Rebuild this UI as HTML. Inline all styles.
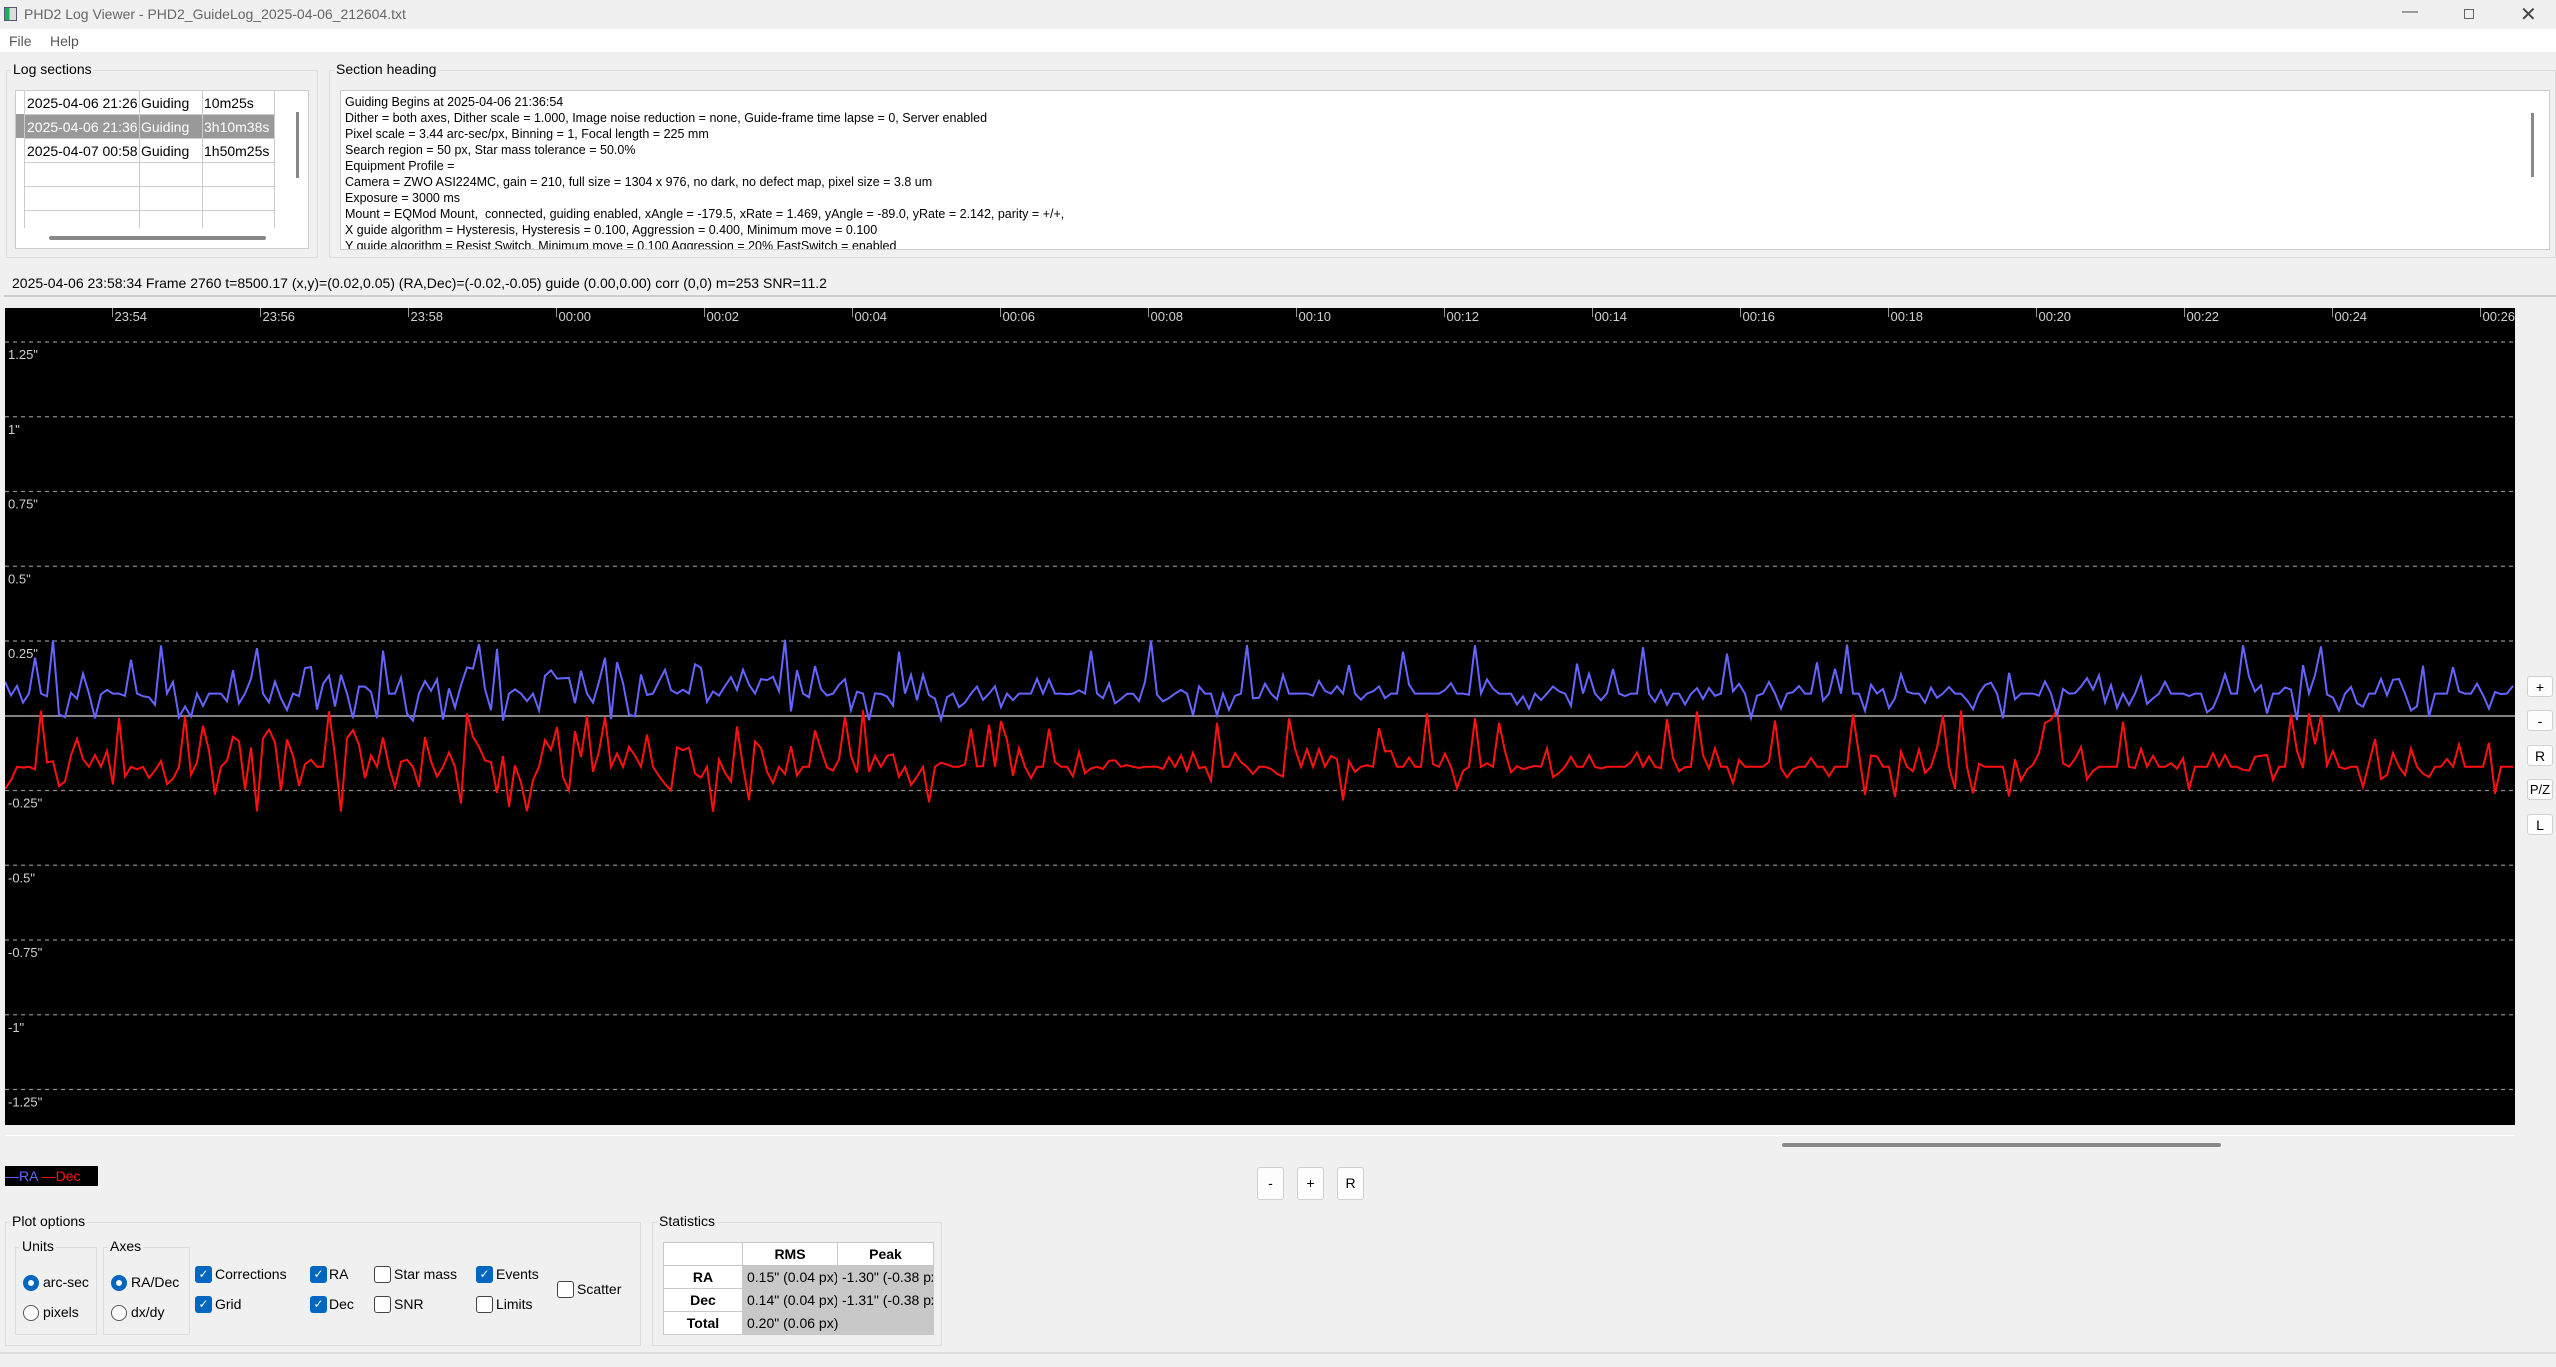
<!DOCTYPE html>
<html><head><meta charset="utf-8">
<style>
*{margin:0;padding:0;box-sizing:border-box}
body{width:2556px;height:1367px;background:#f0f0f0;font-family:"Liberation Sans",sans-serif;position:relative;overflow:hidden;color:#000}
.a{position:absolute}
.t{font-size:14px;white-space:nowrap}
.grp{position:absolute;border:1px solid #dcdcdc}
.gt{position:absolute;background:#f0f0f0;font-size:14px;padding:0 2px;top:-10px;left:4px}
.btn{position:absolute;background:#fdfdfd;border:1px solid #d0d0d0;border-radius:3px;font-size:14px;text-align:center;line-height:20px}
.cb{position:absolute;width:17px;height:17px;border-radius:3px;background:#0067c0;color:#fff;font-size:12px;text-align:center;line-height:17px}
.cbo{position:absolute;width:17px;height:17px;border-radius:3px;border:1px solid #444;background:#fff}
.rd{position:absolute;width:16px;height:16px;border-radius:50%;border:5px solid #0067c0;background:#fff}
.rdo{position:absolute;width:16px;height:16px;border-radius:50%;border:1px solid #555;background:#fff}
.lb{position:absolute;font-size:14px;white-space:nowrap}
td{border:1px solid #c8c8c8;font-size:14px;height:23px;padding:0 4px;white-space:nowrap;overflow:hidden}
</style></head><body>
<div class="a" style="left:0;top:0;width:2556px;height:29px;background:#f0f0f0"></div>
<div class="a" style="left:4px;top:7px;width:13px;height:14px;border:1px solid #557;background:linear-gradient(90deg,#2a6 0,#2a6 40%,#ddd 40%)"></div>
<div class="a t" style="left:24px;top:6px;color:#666">PHD2 Log Viewer - PHD2_GuideLog_2025-04-06_212604.txt</div>
<div class="a t" style="left:2402px;top:3px;color:#555;font-size:16px">—</div>
<div class="a" style="left:2464px;top:9px;width:10px;height:10px;border:1px solid #666"></div>
<div class="a t" style="left:2520px;top:2px;color:#444;font-size:20px">✕</div>
<div class="a" style="left:0;top:29px;width:2556px;height:23px;background:#fff"></div>
<div class="a t" style="left:9px;top:33px;color:#555">File</div>
<div class="a t" style="left:50px;top:33px;color:#555">Help</div>

<div class="grp" style="left:6px;top:70px;width:312px;height:188px"><div class="gt">Log sections</div></div>
<div class="a" style="left:15px;top:90px;width:294px;height:159px;background:#fff;border:1px solid #ccc"></div>
<div class="a" style="left:16px;top:91px;width:262px;height:137px">
 <div class="a" style="left:0;top:23px;width:258px;height:24px;background:#999"></div>
 <div class="a" style="left:8px;top:0;width:1px;height:137px;background:#ccc"></div>
 <div class="a" style="left:123px;top:0;width:1px;height:137px;background:#ccc"></div>
 <div class="a" style="left:186px;top:0;width:1px;height:137px;background:#ccc"></div>
 <div class="a" style="left:258px;top:0;width:1px;height:137px;background:#ccc"></div>
 <div class="a" style="left:8px;top:23px;width:250px;height:1px;background:#ccc"></div>
 <div class="a" style="left:8px;top:47px;width:250px;height:1px;background:#ccc"></div>
 <div class="a" style="left:8px;top:71px;width:250px;height:1px;background:#ccc"></div>
 <div class="a" style="left:8px;top:95px;width:250px;height:1px;background:#ccc"></div>
 <div class="a" style="left:8px;top:119px;width:250px;height:1px;background:#ccc"></div>
 <div class="a t" style="left:11px;top:4px;width:110px;overflow:hidden">2025-04-06 21:26</div>
 <div class="a t" style="left:125px;top:4px">Guiding</div>
 <div class="a t" style="left:188px;top:4px">10m25s</div>
 <div class="a t" style="left:11px;top:28px;width:110px;overflow:hidden;color:#fff">2025-04-06 21:36</div>
 <div class="a t" style="left:125px;top:28px;color:#fff">Guiding</div>
 <div class="a t" style="left:188px;top:28px;color:#fff;width:70px;overflow:hidden">3h10m38s</div>
 <div class="a t" style="left:11px;top:52px;width:110px;overflow:hidden">2025-04-07 00:58</div>
 <div class="a t" style="left:125px;top:52px">Guiding</div>
 <div class="a t" style="left:188px;top:52px">1h50m25s</div>
</div>
<div class="a" style="left:296px;top:112px;width:3px;height:66px;background:#888"></div>
<div class="a" style="left:49px;top:236px;width:217px;height:4px;background:#888;border-radius:2px"></div>

<div class="grp" style="left:329px;top:70px;width:2227px;height:188px"><div class="gt">Section heading</div></div>
<div class="a" style="left:340px;top:90px;width:2210px;height:160px;background:#fff;border:1px solid #ccc;overflow:hidden">
<div style="position:absolute;left:4px;top:3px;font-size:12.5px;line-height:16px;white-space:pre">Guiding Begins at 2025-04-06 21:36:54
Dither = both axes, Dither scale = 1.000, Image noise reduction = none, Guide-frame time lapse = 0, Server enabled
Pixel scale = 3.44 arc-sec/px, Binning = 1, Focal length = 225 mm
Search region = 50 px, Star mass tolerance = 50.0%
Equipment Profile =
Camera = ZWO ASI224MC, gain = 210, full size = 1304 x 976, no dark, no defect map, pixel size = 3.8 um
Exposure = 3000 ms
Mount = EQMod Mount,  connected, guiding enabled, xAngle = -179.5, xRate = 1.469, yAngle = -89.0, yRate = 2.142, parity = +/+,
X guide algorithm = Hysteresis, Hysteresis = 0.100, Aggression = 0.400, Minimum move = 0.100
Y guide algorithm = Resist Switch, Minimum move = 0.100 Aggression = 20% FastSwitch = enabled</div>
<div class="a" style="left:2190px;top:22px;width:3px;height:64px;background:#888"></div>
</div>

<div class="a" style="left:4px;top:271px;width:2552px;height:26px;border-bottom:2px solid #ccc;background:#f0f0f0"></div>
<div class="a t" style="left:12px;top:275px;font-size:14px">2025-04-06 23:58:34 Frame 2760 t=8500.17 (x,y)=(0.02,0.05) (RA,Dec)=(-0.02,-0.05) guide (0.00,0.00) corr (0,0) m=253 SNR=11.2</div>

<svg class="a" style="left:5px;top:308px" width="2510" height="817" id="ch" xmlns="http://www.w3.org/2000/svg">
<rect width="2510" height="817" fill="#000"/>
<g id="grid" stroke="#8a8a8a" stroke-width="1.3" stroke-dasharray="4,4"></g>
<g id="lab" fill="#d0d0d0" font-family="Liberation Sans,sans-serif" font-size="13"></g>
<line x1="0" y1="408" x2="2510" y2="408" stroke="#aaa" stroke-width="1.5"/>
<polyline id="dec" fill="none" stroke="#ff1010" stroke-width="2"/>
<polyline id="ra" fill="none" stroke="#6464ff" stroke-width="2"/>
</svg>

<div class="btn" style="left:2527px;top:676px;width:26px;height:21px">+</div>
<div class="btn" style="left:2527px;top:710px;width:26px;height:21px">-</div>
<div class="btn" style="left:2527px;top:745px;width:26px;height:21px">R</div>
<div class="btn" style="left:2527px;top:779px;width:26px;height:21px;font-size:13px">P/Z</div>
<div class="btn" style="left:2527px;top:814px;width:26px;height:21px">L</div>

<div class="a" style="left:5px;top:1135px;width:2510px;height:1px;background:#fff"></div>
<div class="a" style="left:1782px;top:1143px;width:439px;height:4px;background:#888;border-radius:2px"></div>
<div class="btn" style="left:1257px;top:1167px;width:27px;height:33px;line-height:31px">-</div>
<div class="btn" style="left:1297px;top:1167px;width:27px;height:33px;line-height:31px">+</div>
<div class="btn" style="left:1337px;top:1167px;width:27px;height:33px;line-height:31px">R</div>

<div class="a" style="left:5px;top:1166px;width:93px;height:20px;background:#000;font-size:14px;line-height:20px;white-space:nowrap"><span style="color:#6464ff">—RA</span> <span style="color:#ff1010">—Dec</span></div>

<div class="grp" style="left:5px;top:1222px;width:636px;height:124px"><div class="gt">Plot options</div></div>
<div class="grp" style="left:15px;top:1247px;width:82px;height:88px"><div class="gt">Units</div></div>
<div class="grp" style="left:103px;top:1247px;width:87px;height:88px"><div class="gt">Axes</div></div>
<div class="rd" style="left:23px;top:1275px"></div><div class="lb" style="left:43px;top:1274px">arc-sec</div>
<div class="rdo" style="left:23px;top:1305px"></div><div class="lb" style="left:43px;top:1304px">pixels</div>
<div class="rd" style="left:111px;top:1275px"></div><div class="lb" style="left:131px;top:1274px">RA/Dec</div>
<div class="rdo" style="left:111px;top:1305px"></div><div class="lb" style="left:131px;top:1304px">dx/dy</div>
<div class="cb" style="left:195px;top:1266px">✓</div><div class="lb" style="left:215px;top:1266px">Corrections</div>
<div class="cb" style="left:195px;top:1296px">✓</div><div class="lb" style="left:215px;top:1296px">Grid</div>
<div class="cb" style="left:310px;top:1266px">✓</div><div class="lb" style="left:329px;top:1266px">RA</div>
<div class="cb" style="left:310px;top:1296px">✓</div><div class="lb" style="left:329px;top:1296px">Dec</div>
<div class="cbo" style="left:374px;top:1266px"></div><div class="lb" style="left:394px;top:1266px">Star mass</div>
<div class="cbo" style="left:374px;top:1296px"></div><div class="lb" style="left:394px;top:1296px">SNR</div>
<div class="cb" style="left:476px;top:1266px">✓</div><div class="lb" style="left:496px;top:1266px">Events</div>
<div class="cbo" style="left:476px;top:1296px"></div><div class="lb" style="left:496px;top:1296px">Limits</div>
<div class="cbo" style="left:557px;top:1281px"></div><div class="lb" style="left:577px;top:1281px">Scatter</div>

<div class="grp" style="left:652px;top:1222px;width:290px;height:124px"><div class="gt">Statistics</div></div>
<table class="a" style="left:663px;top:1242px;width:270px;border-collapse:collapse;table-layout:fixed;background:#fff">
<colgroup><col style="width:79px"><col style="width:95px"><col style="width:96px"></colgroup>
<tr><td></td><td style="text-align:center;font-weight:bold;height:20px">RMS</td><td style="text-align:center;font-weight:bold;height:20px">Peak</td></tr>
<tr><td style="text-align:center;font-weight:bold">RA</td><td style="background:#c8c8c8">0.15" (0.04 px)</td><td style="background:#c8c8c8">-1.30" (-0.38 px)</td></tr>
<tr><td style="text-align:center;font-weight:bold">Dec</td><td style="background:#c8c8c8">0.14" (0.04 px)</td><td style="background:#c8c8c8">-1.31" (-0.38 px)</td></tr>
<tr><td style="text-align:center;font-weight:bold">Total</td><td colspan="2" style="background:#c8c8c8">0.20" (0.06 px)</td></tr>
</table>
<div class="a" style="left:0;top:1352px;width:2556px;height:2px;background:#ddd"></div>

<script>
(function(){
var NS="http://www.w3.org/2000/svg";
var g=document.getElementById('grid'),lab=document.getElementById('lab');
var Z=408,S=299;
var labels=['1.25"','1"','0.75"','0.5"','0.25"','','-0.25"','-0.5"','-0.75"','-1"','-1.25"'];
for(var k=0;k<11;k++){var y=34+k*74.75;if(k!=5){var l=document.createElementNS(NS,'line');l.setAttribute('x1',0);l.setAttribute('x2',2510);l.setAttribute('y1',y);l.setAttribute('y2',y);g.appendChild(l);}
 if(labels[k]){var t=document.createElementNS(NS,'text');t.setAttribute('x',3);t.setAttribute('y',y+17);t.textContent=labels[k];lab.appendChild(t);}}
var times=['23:54','23:56','23:58','00:00','00:02','00:04','00:06','00:08','00:10','00:12','00:14','00:16','00:18','00:20','00:22','00:24','00:26'];
for(var i=0;i<times.length;i++){var x=107.5+i*148;var l=document.createElementNS(NS,'line');l.setAttribute('x1',x);l.setAttribute('x2',x);l.setAttribute('y1',0);l.setAttribute('y2',9);l.setAttribute('stroke','#999');lab.appendChild(l);
 var t=document.createElementNS(NS,'text');t.setAttribute('x',x+2);t.setAttribute('y',13);t.textContent=times[i];lab.appendChild(t);}
var s=24680;function r(){s=(s*1103515245+12345)%2147483648;return s/2147483648;}
var ra=[],de=[];
var RB=0.075,DB=-0.17;
for(var x=0;x<=2510;x+=6){
 var early=x<850?1:0.55;
 var v=RB,w=DB;
 if(r()<0.3+0.5*early) v=RB+(r()-0.45)*0.16*early+(r()-0.5)*0.06;
 if(r()<0.07) v=RB+0.08+r()*0.1;
 if(r()<0.05) v=-0.02+r()*0.05;
 if(r()<0.3+0.5*early) w=DB+(r()-0.4)*0.2*early+(r()-0.5)*0.06;
 if(r()<0.08) w=-0.05+r()*0.07;
 if(r()<0.035*early+0.01) w=-0.24-r()*0.09*early;
 ra.push(x.toFixed(1)+','+(Z-v*S).toFixed(1));
 de.push(x.toFixed(1)+','+(Z-w*S).toFixed(1));
}
document.getElementById('ra').setAttribute('points',ra.join(' '));
document.getElementById('dec').setAttribute('points',de.join(' '));
})();
</script>
</body></html>
